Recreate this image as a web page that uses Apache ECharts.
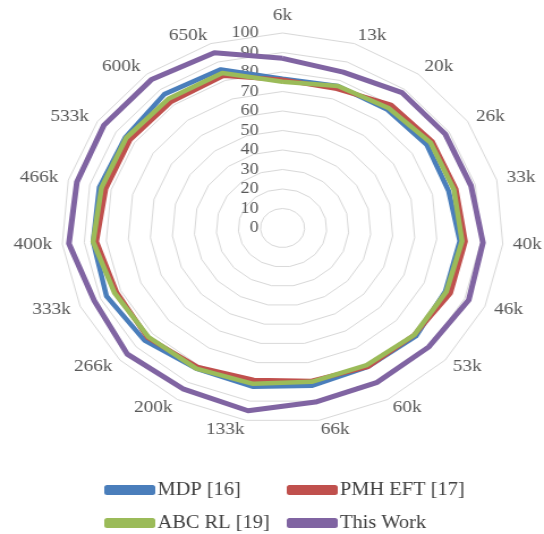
<!DOCTYPE html>
<html>
<head>
<meta charset="utf-8">
<script src="https://cdn.jsdelivr.net/npm/echarts@6/dist/echarts.min.js"></script>
<style>
html,body{margin:0;padding:0;background:#fff;overflow:hidden;}
#wrap{width:544px;height:534px;overflow:hidden;}
#chart{width:480px;height:534px;transform:scaleX(1.1333);transform-origin:0 0;}
</style>
</head>
<body>
<div id="wrap"><div id="chart"></div></div>
<script>
const indicators = ['6k','13k','20k','26k','33k','40k','46k','53k','60k','66k','133k','200k','266k','333k','400k','466k','533k','600k','650k'];
const mdp      = [76.5, 77, 77, 78, 77.5, 80.5, 80.5, 82, 81, 82, 82.5, 82, 85, 87, 86, 85.5, 85, 87, 86];
const pmhEft   = [76, 75.5, 80, 81, 81, 83, 83, 81, 81, 79.5, 79, 81, 83, 82, 84.5, 82.5, 82.5, 82, 82.5];
const abcRl    = [75, 77, 78, 80, 80, 81.5, 81, 81, 80, 80, 81, 82, 82.5, 83, 86, 84.5, 84.5, 84, 84];
const thisWork = [87, 84.5, 88, 88, 88, 91, 92, 90, 90, 90.5, 95, 94, 95.5, 93, 97, 96, 96.5, 96.5, 95];
const seriesNames = ['MDP [16]', 'PMH EFT [17]', 'ABC RL [19]', 'This Work'];
const axisMax = 100;
const axisStep = 10;

const colors = ['#4A7EBB', '#C0504D', '#9BBB59', '#8064A2'];
// ECharts places radar indicators counter-clockwise; reorder to run clockwise
const order = [0];
for (let i = indicators.length - 1; i >= 1; i--) order.push(i);
const reorder = arr => order.map(i => arr[i]);

const indicatorOpts = reorder(indicators).map((n, i) => {
  const o = { name: n, min: 0, max: axisMax };
  if (i === 0) {
    o.axisLabel = { show: true, showMinLabel: true, showMaxLabel: true, color: '#595959',
      fontFamily: 'Liberation Serif', fontSize: 16, margin: 21 };
  }
  return o;
});

const allData = [mdp, pmhEft, abcRl, thisWork];
const chart = echarts.init(document.getElementById('chart'), null, { renderer: 'canvas' });

const legendPos = [
  { left: 92, top: 481 },
  { left: 253, top: 481 },
  { left: 92, top: 514 },
  { left: 253, top: 514 }
];

chart.setOption({
  animation: false,
  backgroundColor: '#fff',
  legend: seriesNames.map((n, i) => ({
    data: [n],
    left: legendPos[i].left,
    top: legendPos[i].top,
    padding: 0,
    itemWidth: 45,
    itemHeight: 10,
    itemGap: 0,
    selectedMode: false,
    textStyle: { fontFamily: 'Liberation Serif', fontSize: 18, color: '#404040', padding: [0, 0, 0, -3] }
  })),
  radar: {
    center: [249.3, 228],
    radius: 195,
    startAngle: 90,
    shape: 'polygon',
    splitNumber: axisMax / axisStep,
    indicator: indicatorOpts,
    axisName: { color: '#595959', fontFamily: 'Liberation Serif', fontSize: 17 },
    nameGap: 9,
    axisLine: { show: false },
    axisTick: { show: false },
    axisLabel: { show: false },
    splitLine: { lineStyle: { color: '#D9D9D9', width: 1 } },
    splitArea: { show: false }
  },
  series: allData.map((d, i) => ({
    type: 'radar',
    name: seriesNames[i],
    symbol: 'none',
    color: colors[i],
    lineStyle: { color: colors[i], width: i === 3 ? 5 : 4.5 },
    itemStyle: { color: colors[i] },
    data: [{ value: reorder(d), name: seriesNames[i] }]
  }))
});
</script>
</body>
</html>
